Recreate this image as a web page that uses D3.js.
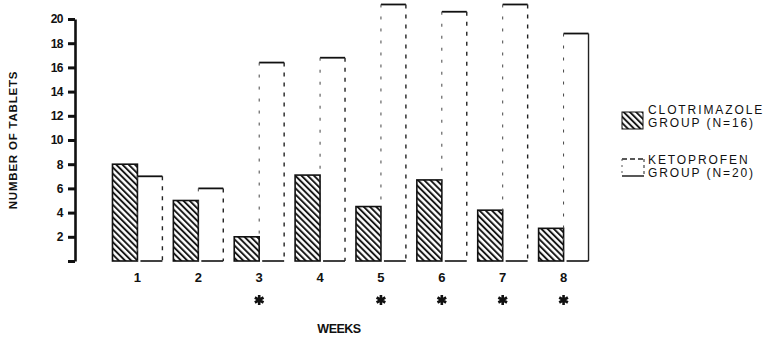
<!DOCTYPE html>
<html>
<head>
<meta charset="utf-8">
<script src="https://cdn.jsdelivr.net/npm/d3@7"></script>
<style>
  body { margin: 0; background: #fff; }
  svg { display: block; }
  text { font-family: "Liberation Sans", Arial, sans-serif; fill: #111; }
</style>
</head>
<body>
<svg id="chart" width="767" height="338"></svg>
<script>
// values
var weeks = [1, 2, 3, 4, 5, 6, 7, 8]
var clotrimazole = [8, 5, 2, 7.1, 4.5, 6.7, 4.2, 2.7]
var ketoprofen = [7, 6, 16.4, 16.8, 21.2, 20.6, 21.2, 18.8]
var yTicks = [0, 2, 4, 6, 8, 10, 12, 14, 16, 18, 20]
var significant = [3, 5, 6, 7, 8]

var svg = d3.select('#chart')

// hatch for clotrimazole group
var defs = svg.append('defs')
var pat = defs.append('pattern')
  .attr('id', 'hatch')
  .attr('patternUnits', 'userSpaceOnUse')
  .attr('width', 4.4).attr('height', 4.4)
  .attr('patternTransform', 'rotate(-45)')
pat.append('rect').attr('width', 4.4).attr('height', 4.4).attr('fill', '#fff')
pat.append('line').attr('x1', 1).attr('y1', 0).attr('x2', 1).attr('y2', 4.4)
  .attr('stroke', '#111').attr('stroke-width', 1.9)

const x = d3.scaleBand().domain(weeks).range([107, 594]).paddingInner(0.18).paddingOuter(0.09)
const sub = d3.scaleBand().domain(['c', 'k']).range([0, x.bandwidth()])
const y = d3.scaleLinear().domain([0, 20]).range([261, 19])

// y axis
var yAxis = d3.axisLeft(y).tickValues(yTicks).tickSize(7).tickSizeOuter(0).tickPadding(5)
  .tickFormat(d => d === 0 ? '' : d)
var ga = svg.append('g').attr('transform', 'translate(75,0)').call(yAxis)
ga.select('.domain').attr('stroke', '#111').attr('stroke-width', 2.6)
ga.selectAll('.tick line').attr('stroke', '#111').attr('stroke-width', 3)
ga.selectAll('.tick text').attr('font-size', 12).attr('font-weight', 'bold')
  .attr('fill', '#111').style('letter-spacing', '-0.5px')

// clotrimazole bars
svg.append('g').selectAll('rect')
  .data(weeks)
  .join('rect')
  .attr('x', (d, i) => x(d) + sub('c'))
  .attr('y', (d, i) => y(clotrimazole[i]))
  .attr('width', sub.bandwidth())
  .attr('height', (d, i) => y(0) - y(clotrimazole[i]))
  .attr('fill', 'url(#hatch)')
  .attr('stroke', '#111')
  .attr('stroke-width', 1.6)

// ketoprofen bars, open outline
var gk = svg.append('g')
weeks.forEach(function (w, i) {
  var x0 = x(w) + sub('k'), x1 = x0 + sub.bandwidth()
  var top = y(ketoprofen[i]), bot = y(0)
  gk.append('line').attr('x1', x0).attr('y1', top).attr('x2', x1).attr('y2', top)
    .attr('stroke', '#111').attr('stroke-width', 1.8)
  gk.append('line').attr('x1', x0 + 3).attr('y1', bot).attr('x2', x1).attr('y2', bot)
    .attr('stroke', '#111').attr('stroke-width', 1.6)
  gk.append('line').attr('x1', x0).attr('y1', top).attr('x2', x0).attr('y2', bot)
    .attr('stroke', '#444').attr('stroke-width', 1).attr('stroke-dasharray', '3,9')
  gk.append('line').attr('x1', x1).attr('y1', top).attr('x2', x1).attr('y2', bot)
    .attr('stroke', '#222').attr('stroke-width', 1.4)
    .attr('stroke-dasharray', w === 8 ? null : '4,6')
})

// week labels
svg.append('g').selectAll('text')
  .data(weeks)
  .join('text')
  .attr('x', d => x(d) + sub('k'))
  .attr('y', 282)
  .attr('text-anchor', 'middle')
  .attr('font-size', 13)
  .attr('font-weight', 'bold')
  .text(d => d)

// significance asterisks
svg.append('g').selectAll('path')
  .data(significant)
  .join('path')
  .attr('transform', d => 'translate(' + (x(d) + sub('k')) + ',300)')
  .attr('d', d3.symbol(d3.symbolAsterisk, 70))
  .attr('fill', 'none')
  .attr('stroke', '#111')
  .attr('stroke-width', 2.6)

// axis titles
svg.append('text').attr('x', 339).attr('y', 333).attr('text-anchor', 'middle')
  .attr('font-size', 12.5).attr('font-weight', 'bold').style('letter-spacing', '-0.5px')
  .text('WEEKS')
svg.append('text').attr('transform', 'translate(17,140) rotate(-90)')
  .attr('text-anchor', 'middle').attr('font-size', 11.5).attr('font-weight', 'bold')
  .style('letter-spacing', '0.8px')
  .text('NUMBER  OF  TABLETS')

// legend
svg.append('rect').attr('x', 622).attr('y', 112).attr('width', 21).attr('height', 17)
  .attr('fill', 'url(#hatch)').attr('stroke', '#111').attr('stroke-width', 1)
svg.append('line').attr('x1', 622).attr('y1', 159).attr('x2', 644).attr('y2', 159)
  .attr('stroke', '#222').attr('stroke-width', 1.3).attr('stroke-dasharray', '5,3')
svg.append('line').attr('x1', 622).attr('y1', 176).attr('x2', 644).attr('y2', 176)
  .attr('stroke', '#111').attr('stroke-width', 1.4)
svg.append('line').attr('x1', 622).attr('y1', 159).attr('x2', 622).attr('y2', 176)
  .attr('stroke', '#555').attr('stroke-width', 1).attr('stroke-dasharray', '2,4')
svg.append('line').attr('x1', 644).attr('y1', 159).attr('x2', 644).attr('y2', 176)
  .attr('stroke', '#333').attr('stroke-width', 1.1).attr('stroke-dasharray', '3,3')

var legendLines = [
  ['CLOTRIMAZOLE', 114], ['GROUP  (N=16)', 127],
  ['KETOPROFEN', 164], ['GROUP  (N=20)', 177]
]
svg.append('g').selectAll('text')
  .data(legendLines)
  .join('text')
  .attr('x', 648)
  .attr('y', d => d[1])
  .attr('font-size', 12)
  .style('letter-spacing', '1.9px')
  .text(d => d[0])
</script>
</body>
</html>
